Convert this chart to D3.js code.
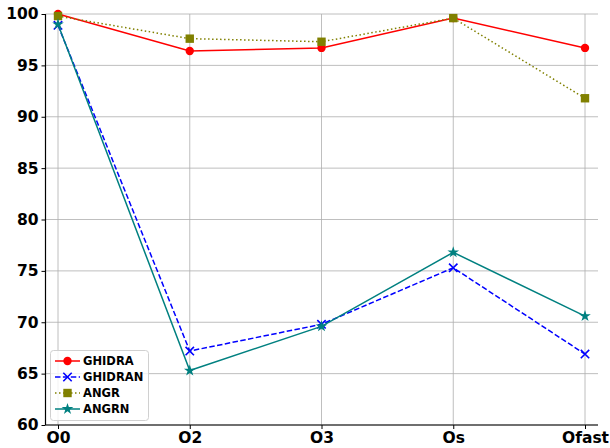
<!DOCTYPE html>
<html><head><meta charset="utf-8">
<script src="https://cdn.jsdelivr.net/npm/d3@7"></script>
<style>body{margin:0;background:#fff}svg{display:block}text{font-family:"DejaVu Sans",sans-serif;font-weight:bold}</style>
</head><body><svg id="c" width="610" height="448"></svg>
<script>
const categories = ["O0","O2","O3","Os","Ofast"];
const ghidra  = [100.0, 96.4, 96.7, 99.6, 96.7];
const ghidran = [98.9, 67.2, 69.8, 75.3, 66.9];
const angr    = [99.8, 97.6, 97.3, 99.6, 91.8];
const angrn   = [99.0, 65.3, 69.6, 76.8, 70.6];
const yTicks  = [60,65,70,75,80,85,90,95,100];

const series = [
  {name:"GHIDRA", values:ghidra, color:"#ff0000", dash:null, marker:"circle"},
  {name:"GHIDRAN", values:ghidran, color:"#0000ff", dash:"5.5,2.4", marker:"x"},
  {name:"ANGR", values:angr, color:"#808000", dash:"1.5,2.5", marker:"square"},
  {name:"ANGRN", values:angrn, color:"#008080", dash:null, marker:"star"}
];

const svg = d3.select("#c");
const L=45.5, R=598, T=14, B=425;
const x = d3.scalePoint().domain(categories).range([58,585]);
const y = d3.scaleLinear().domain([60,100]).range([B,T]);

// grid
const g = svg.append("g");
g.selectAll(".hg").data(yTicks).join("line")
  .attr("x1",L).attr("x2",R).attr("y1",d=>y(d)).attr("y2",d=>y(d))
  .attr("stroke","#b0b0b0").attr("stroke-width",1).attr("opacity",0.8);
g.selectAll(".vg").data(categories).join("line")
  .attr("x1",d=>x(d)).attr("x2",d=>x(d)).attr("y1",T).attr("y2",B)
  .attr("stroke","#b0b0b0").attr("stroke-width",1).attr("opacity",0.8);

// axes
const yAxis = svg.append("g").attr("transform",`translate(${L},0)`)
  .call(d3.axisLeft(y).tickValues(yTicks).tickSize(4).tickPadding(3));
const xAxis = svg.append("g").attr("transform",`translate(0,${B})`)
  .call(d3.axisBottom(x).tickSize(4).tickPadding(3));
[yAxis,xAxis].forEach(a=>{
  a.select(".domain").attr("stroke","#000").attr("stroke-width",1.2);
  a.selectAll(".tick line").attr("stroke","#000").attr("stroke-width",1);
  a.selectAll("text").attr("font-size","15.5px").attr("font-family","DejaVu Sans").attr("font-weight","bold").attr("fill","#000");
});
yAxis.select(".domain").attr("d",`M-0,${B}V${T}`);
xAxis.select(".domain").attr("d",`M${L},0H${R}`);

function drawMarker(sel, type, color, cx, cy, s){
  s = s||1;
  if(type==="circle"){
    sel.append("circle").attr("cx",cx).attr("cy",cy).attr("r",4.2*s).attr("fill",color);
  } else if(type==="square"){
    const h=4.2*s;
    sel.append("rect").attr("x",cx-h).attr("y",cy-h).attr("width",2*h).attr("height",2*h).attr("fill",color);
  } else if(type==="x"){
    const h=4.2*s;
    sel.append("path").attr("d",`M${cx-h},${cy-h}L${cx+h},${cy+h}M${cx-h},${cy+h}L${cx+h},${cy-h}`)
      .attr("stroke",color).attr("stroke-width",1.6).attr("fill","none");
  } else if(type==="star"){
    sel.append("path").attr("d",d3.symbol(d3.symbolStar, 42*s*s)()).attr("transform",`translate(${cx},${cy})`).attr("fill",color);
  }
}

const line = d3.line().x((d,i)=>x(categories[i])).y(d=>y(d));
series.forEach(s=>{
  const gs = svg.append("g");
  gs.append("path").datum(s.values).attr("d",line).attr("fill","none")
    .attr("stroke",s.color).attr("stroke-width",1.5)
    .attr("stroke-dasharray",s.dash);
  s.values.forEach((v,i)=>drawMarker(gs,s.marker,s.color,x(categories[i]),y(v)));
});

// legend
const lg = svg.append("g");
lg.append("rect").attr("x",50.5).attr("y",350.5).attr("width",98).attr("height",70).attr("rx",3)
  .attr("fill","#fff").attr("fill-opacity",0.8).attr("stroke","#d0d0d0");
series.forEach((s,i)=>{
  const cy = 361 + i*16;
  lg.append("line").attr("x1",55).attr("x2",80).attr("y1",cy).attr("y2",cy)
    .attr("stroke",s.color).attr("stroke-width",1.5).attr("stroke-dasharray",s.dash);
  drawMarker(lg,s.marker,s.color,67.5,cy);
  lg.append("text").attr("x",83).attr("y",cy).attr("dy","0.36em").attr("font-size","11.5px").text(s.name);
});
</script></body></html>
